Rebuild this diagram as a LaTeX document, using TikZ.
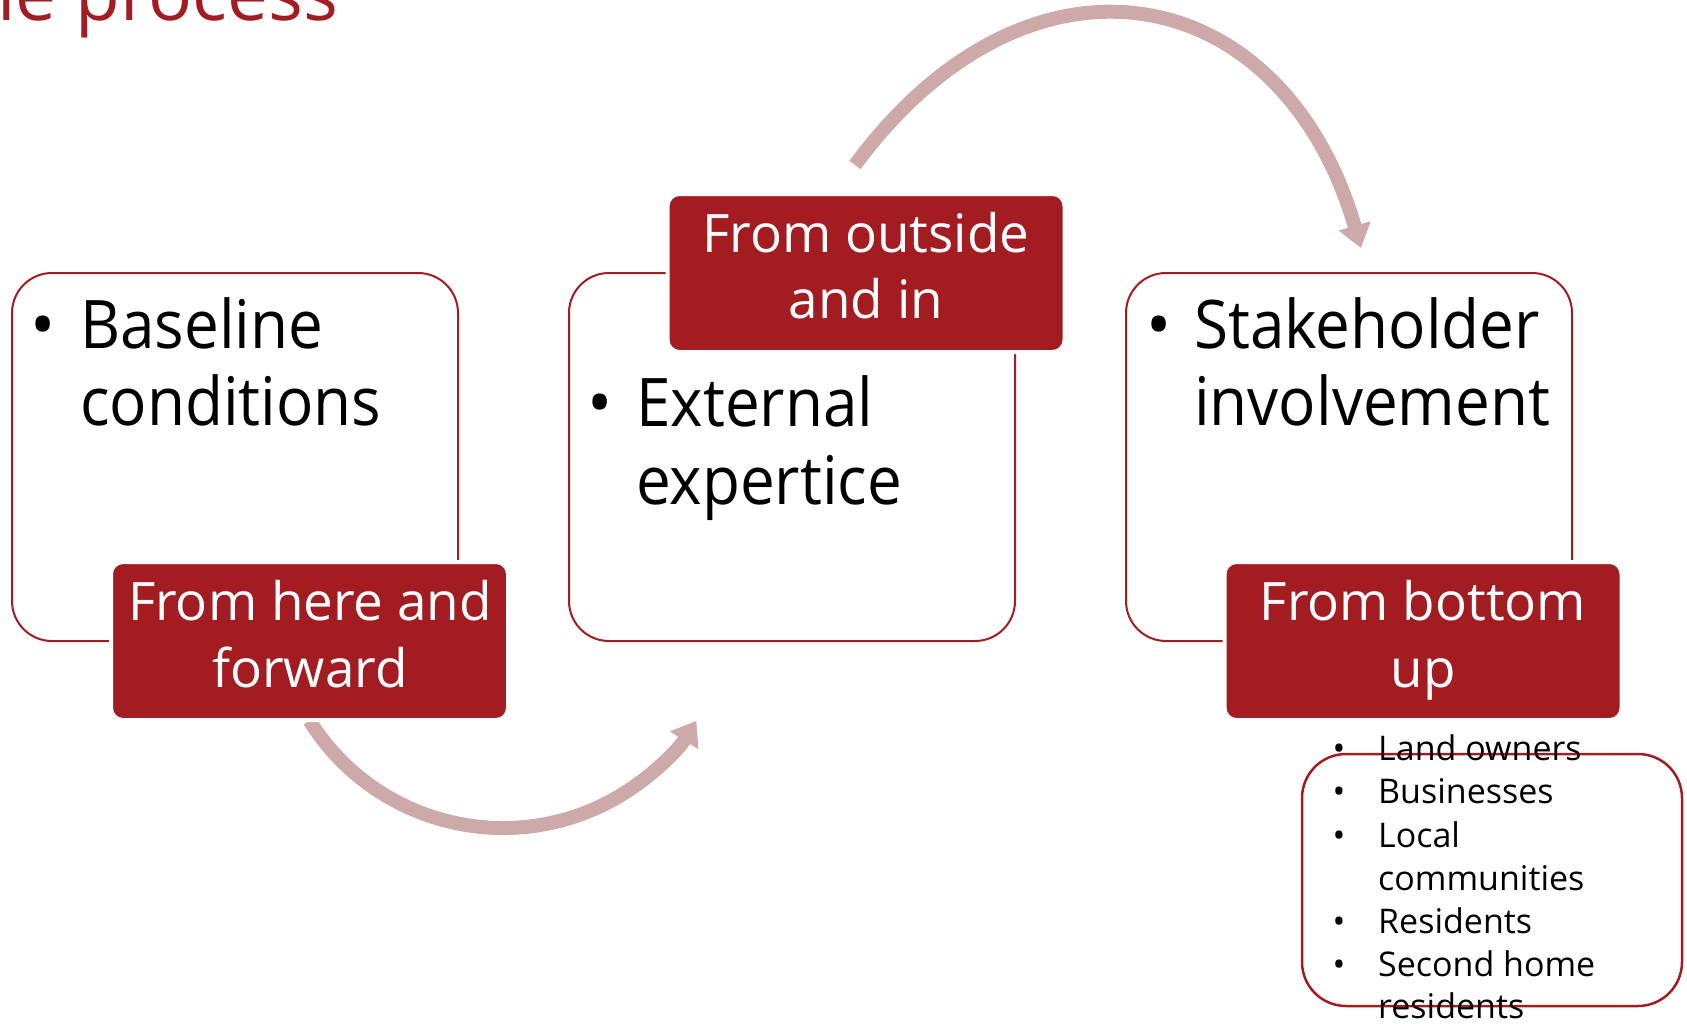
\documentclass[tikz,border=0pt]{standalone}
\usepackage{fontspec}
\setmainfont{Open Sans}
\newfontfamily\panelface[FakeStretch=0.925]{Open Sans}
\usetikzlibrary{arrows.meta}
\definecolor{deepred}{RGB}{163,28,34}
\definecolor{rose}{RGB}{205,169,169}

\begin{document}
\begin{tikzpicture}[x=1pt,y=-1pt,
  panel/.style={draw=deepred, line width=2pt, rounded corners=40pt, fill=white,
    minimum width=446pt, minimum height=368pt, inner sep=0pt},
  tag/.style={fill=deepred, draw=white, line width=4pt, rounded corners=12pt,
    minimum width=397pt, minimum height=158pt, inner sep=0pt},
  listbox/.style={draw=deepred, line width=2.5pt, rounded corners=44pt,
    minimum width=380pt, minimum height=252pt, inner sep=0pt},
  loop/.style={draw=rose, line width=14pt, -{Triangle[length=23pt,width=32pt]}},
  bigtxt/.style={inner sep=0pt, anchor=base west, font=\panelface\fontsize{67}{77}\selectfont},
  bigdot/.style={inner sep=0pt, anchor=base, font=\fontsize{67}{77}\selectfont},
  tagtxt/.style={inner sep=0pt, anchor=base, text=white, font=\fontsize{53}{67}\selectfont},
  smalltxt/.style={inner sep=0pt, anchor=base west, font=\fontsize{34}{43}\selectfont},
  smalldot/.style={inner sep=0pt, anchor=base, font=\fontsize{34}{43}\selectfont},
  heading/.style={inner sep=0pt, anchor=base west, text=deepred, font=\fontsize{73}{80}\selectfont}
]
\useasboundingbox (0,0) rectangle (1687,1023);
\clip (0,0) rectangle (1687,1023);

% heading, partly above the page
\node[heading] (title) at (-3,20) {le process};

% three panels
\node[panel] (p1) at (235,457) {};
\node[panel] (p2) at (792,457) {};
\node[panel] (p3) at (1349,457) {};

% cycle arrows
\coordinate (c1) at (503,600);
\draw[loop] (c1) ++(148:228) arc[start angle=148, end angle=32, radius=228];
\coordinate (a2s) at (855,165);
\coordinate (a2e) at (1361,248);
\draw[loop] (a2s) .. controls (1030,-72) and (1283,-21) .. (a2e);

% panel contents
\node[bigdot] (d1) at (43,348) {•};
\node[bigtxt] (t1a) at (80,348) {Baseline};
\node[bigtxt] (t1b) at (80,425) {conditions};

\node[bigdot] (d2) at (600,426) {•};
\node[bigtxt] (t2a) at (636,426) {External};
\node[bigtxt] (t2b) at (636,504) {expertice};

\node[bigdot] (d3) at (1159,348) {•};
\node[bigtxt] (t3a) at (1194,348) {Stakeholder};
\node[bigtxt] (t3b) at (1194,425) {involvement};

% tags
\node[tag] (g1) at (309.5,641) {};
\node[tagtxt] (g1a) at (310,620) {From here and};
\node[tagtxt] (g1b) at (310,687) {forward};

\node[tag] (g2) at (866,273) {};
\node[tagtxt] (g2a) at (866,252) {From outside};
\node[tagtxt] (g2b) at (866,318) {and in};

\node[tag] (g3) at (1423,641) {};
\node[tagtxt] (g3a) at (1423,620) {From bottom};
\node[tagtxt] (g3b) at (1423,687) {up};

% stakeholder list
\node[listbox] (lb) at (1492,880) {};
\node[smalldot] (s1d) at (1339,760) {•};
\node[smalltxt] (s1) at (1378,760) {Land owners};
\node[smalldot] (s2d) at (1339,803) {•};
\node[smalltxt] (s2) at (1378,803) {Businesses};
\node[smalldot] (s3d) at (1339,847) {•};
\node[smalltxt] (s3) at (1378,847) {Local};
\node[smalltxt] (s3b) at (1378,890) {communities};
\node[smalldot] (s4d) at (1339,933) {•};
\node[smalltxt] (s4) at (1378,933) {Residents};
\node[smalldot] (s5d) at (1339,976) {•};
\node[smalltxt] (s5) at (1378,976) {Second home};
\node[smalltxt] (s5b) at (1378,1018) {residents};
\end{tikzpicture}
\end{document}
